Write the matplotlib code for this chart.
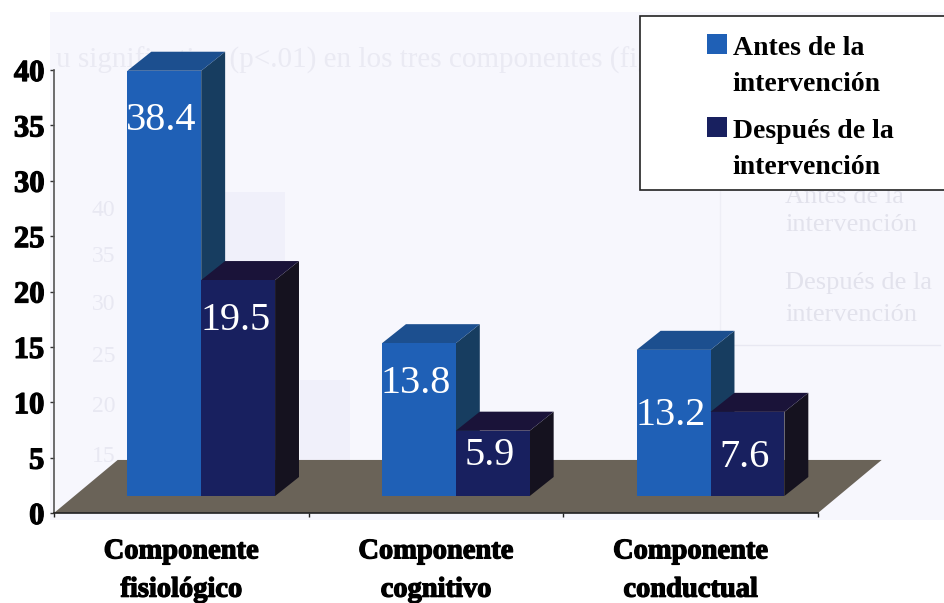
import matplotlib
matplotlib.use("Agg")
import matplotlib.pyplot as plt
import matplotlib.patheffects as pe
from matplotlib.legend_handler import HandlerPatch
from matplotlib.patches import Patch, Polygon, Rectangle

categories = ["Componente\nfisiológico", "Componente\ncognitivo", "Componente\nconductual"]
antes = [38.4, 13.8, 13.2]
despues = [19.5, 5.9, 7.6]
series_names = ["Antes de la\nintervención", "Después de la\nintervención"]
y_ticks = [0, 5, 10, 15, 20, 25, 30, 35, 40]

# box geometry, in axis units
BAR_W = 0.29
BAR_START = -0.212
DEPTH_X = 0.094
DEPTH_Y = 1.72
BASE = 1.53
FLOOR_X = 0.25
FLOOR_Y = 4.79

# label drop below the front top edge, in points
drop_antes = [36, 29, 47]
drop_despues = [29, 18, 33]

FRONT = ["#1f60b6", "#18205f"]
SIDE = ["#173d60", "#15121f"]
TOP = ["#1c4f8f", "#1a1339"]
FLOOR = "#6a6358"
PANEL = "#f7f7fd"
GHOST = "#eaeaf3"

W, H = 944, 603
plt.rcParams["font.family"] = ["Liberation Serif", "DejaVu Serif"]
fig = plt.figure(figsize=(W / 100, H / 100), dpi=100, facecolor="white")
heavy = [pe.withStroke(linewidth=0.9, foreground="black")]


def fx(px):
    return px / W


def fy(py):
    return 1 - py / H


# pale page tone behind the plot, with faint show-through from the reverse side
fig.add_artist(Rectangle((fx(50), fy(520)), fx(W - 50), 508 / H, transform=fig.transFigure,
                         facecolor=PANEL, edgecolor="none", zorder=-5))
fig.text(fx(56), fy(60), "u significativa (p<.01) en los tres componentes (fig", fontsize=21,
         color=GHOST, va="center", zorder=-4)
for text, py in [("Antes de la", 197), ("intervención", 225), ("Después de la", 283), ("intervención", 315)]:
    fig.text(fx(785), fy(py), text, fontsize=19, color="#e2e2ec", va="center", zorder=-4)
for text, py in [("40", 210), ("35", 257), ("30", 305), ("25", 357), ("20", 407), ("15", 456)]:
    fig.text(fx(92), fy(py), text, fontsize=17, color="#e8e8f2", va="center", zorder=-4)
for x0, y0, x1, y1 in [(205, 192, 285, 262), (300, 380, 350, 500)]:
    fig.add_artist(Rectangle((fx(x0), fy(y1)), fx(x1 - x0), (y1 - y0) / H, transform=fig.transFigure,
                             facecolor="#f0f0fa", edgecolor="none", zorder=-4))
fig.add_artist(plt.Line2D([fx(720), fx(720)], [fy(190), fy(345)], color="#eeeef6", lw=1, zorder=-4))
fig.add_artist(plt.Line2D([fx(725), fx(940)], [fy(345), fy(345)], color="#e8e8f2", lw=1, zorder=-4))

ax = fig.add_axes([fx(54), 1 - 513 / H, fx(818 - 54), (513 - 70) / H])
ax.set_xlim(-0.5, 2.5)
ax.set_ylim(0, 40)
ax.patch.set_alpha(0)

# floor of the 3-D box
ax.add_patch(Polygon([(-0.5, 0), (2.5, 0), (2.5 + FLOOR_X, FLOOR_Y), (-0.5 + FLOOR_X, FLOOR_Y)],
                     closed=True, facecolor=FLOOR, edgecolor="none", clip_on=False, zorder=1))

for i in range(len(categories)):
    for s, (values, drops) in enumerate([(antes, drop_antes), (despues, drop_despues)]):
        left = i + BAR_START + s * BAR_W
        right = left + BAR_W
        top = values[i] + BASE
        ax.fill([right, right + DEPTH_X, right + DEPTH_X, right],
                [BASE, BASE + DEPTH_Y, top + DEPTH_Y, top],
                color=SIDE[s], lw=0, clip_on=False, zorder=2 + i + s * 0.1)
        ax.fill([left, right, right + DEPTH_X, left + DEPTH_X],
                [top, top, top + DEPTH_Y, top + DEPTH_Y],
                color=TOP[s], lw=0, clip_on=False, zorder=2 + i + s * 0.1)
        ax.bar(left, values[i], BAR_W, bottom=BASE, align="edge", color=FRONT[s],
               clip_on=False, zorder=2.05 + i + s * 0.1)
        ax.annotate(f"{values[i]:.1f}", (left + BAR_W / 2, top), xytext=(-2, -drops[i]),
                    textcoords="offset points", ha="center", va="center", color="white",
                    fontsize=29, zorder=8)

# axes
for side in ("top", "right"):
    ax.spines[side].set_visible(False)
ax.spines["left"].set_color("#555555")
ax.spines["left"].set_linewidth(1.2)
ax.spines["bottom"].set_color("#222222")
ax.spines["bottom"].set_linewidth(1.2)
ax.spines["left"].set_zorder(9)
ax.spines["bottom"].set_zorder(9)

ax.set_yticks(y_ticks)
ax.set_yticklabels([str(v) for v in y_ticks], fontsize=22, fontweight="bold", path_effects=heavy)
ax.tick_params(axis="y", length=3, width=1, color="#333333", pad=4)
ax.set_xticks([-0.5, 0.5, 1.5, 2.5])
ax.set_xticklabels([])
ax.tick_params(axis="x", which="major", length=3, width=1, color="#222222")
ax.set_xticks(range(len(categories)), labels=categories, minor=True)
ax.tick_params(axis="x", which="minor", length=0, pad=19)
for label in ax.get_xticklabels(minor=True):
    label.set_fontsize(20.5)
    label.set_fontweight("bold")
    label.set_linespacing(1.7)
    label.set_path_effects(heavy)

# legend box runs off the right edge
fig.add_artist(Rectangle((fx(640), fy(190)), fx(320), 174 / H, transform=fig.transFigure,
                         facecolor="white", edgecolor="#222222", lw=1.2, zorder=10))


def first_line_swatch(legend, orig_handle, xdescent, ydescent, width, height, fontsize):
    return Rectangle((-xdescent, -ydescent + fontsize * 0.8), width, height)


handles = [Patch(facecolor=FRONT[0]), Patch(facecolor=FRONT[1])]
leg = fig.legend(handles, series_names, loc="upper left",
                 bbox_to_anchor=(fx(707), fy(36)), borderaxespad=0, borderpad=0, frameon=False,
                 handlelength=0.72, handleheight=0.72, handletextpad=0.2,
                 labelspacing=0.78, prop={"weight": "bold", "size": 20},
                 handler_map={Patch: HandlerPatch(patch_func=first_line_swatch)})
leg.set_zorder(11)
for t in leg.get_texts():
    t.set_linespacing(1.6)

fig.savefig("out.png", dpi=100, facecolor="white")
